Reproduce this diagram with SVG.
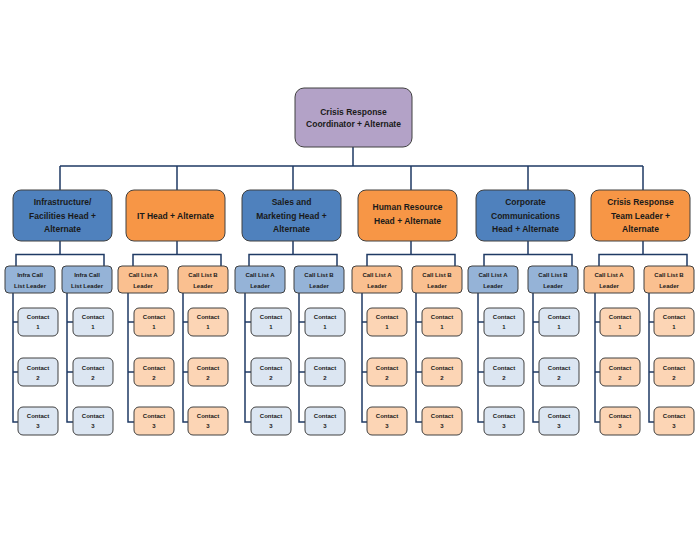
<svg xmlns="http://www.w3.org/2000/svg" width="700" height="541" viewBox="0 0 700 541">
<style>
.bg{fill:#ffffff}
.ln{fill:none;stroke:#1F3A64;stroke-width:1.5}
rect{stroke:#404040;stroke-width:1}
.top{fill:#B3A2C7}
.hb{fill:#4F81BD}
.ho{fill:#F79646}
.lb{fill:#95B3D7}
.lo{fill:#FAC090}
.cb{fill:#DCE6F2}
.co{fill:#FCD5B5}
text{font-family:"Liberation Sans",Arial,sans-serif;font-weight:bold;text-anchor:middle;fill:#1a1a1a}
.t1{font-size:8.5px}
.t2{font-size:8.5px}
.t3{font-size:6px}
.t4{font-size:6px}
</style>
<rect class="bg" x="0" y="0" width="700" height="541" style="stroke:none"/>

<g id="connectors">
<path class="ln" d="M353,147V166M60,166H643M60,166V190M177,166V190M293,166V190M411,166V190M528,166V190M643,166V190"/>
<path class="ln" d="M60,241V254.5M16,266V254.5H104V266M177,241V254.5M133,266V254.5H221V266M293,241V254.5M249,266V254.5H337V266M411,241V254.5M367,266V254.5H455V266M528,241V254.5M484,266V254.5H572V266M643,241V254.5M599,266V254.5H687V266"/>
<path class="ln" d="M13,293V422H18M13,322H18M13,372H18M67,293V422H73M67,322H73M67,372H73"/>
<path class="ln" d="M128,293V422H134M128,322H134M128,372H134M183,293V422H188M183,322H188M183,372H188"/>
<path class="ln" d="M245,293V422H251M245,322H251M245,372H251M299,293V422H305M299,322H305M299,372H305"/>
<path class="ln" d="M362,293V422H367M362,322H367M362,372H367M416,293V422H422M416,322H422M416,372H422"/>
<path class="ln" d="M478,293V422H484M478,322H484M478,372H484M533,293V422H539M533,322H539M533,372H539"/>
<path class="ln" d="M595,293V422H600M595,322H600M595,372H600M649,293V422H654M649,322H654M649,372H654"/>
</g>

<g id="coordinator">
<rect class="top" x="295" y="88" width="117" height="59" rx="9"/>
<text class="t1" x="353.5" y="115">Crisis Response</text>
<text class="t1" x="353.5" y="127">Coordinator + Alternate</text>
</g>

<!-- Department 0 -->
<g id="head-infra">
<rect class="hb" x="13" y="190" width="99" height="51" rx="8"/>
<text class="t2" x="62.5" y="205">Infrastructure/</text>
<text class="t2" x="62.5" y="218.5">Facilities Head +</text>
<text class="t2" x="62.5" y="232">Alternate</text>
</g>
<g id="leader-infra-1"><rect class="lb" x="5" y="266" width="50" height="27" rx="4"/><text class="t3" x="30" y="277">Infra Call</text><text class="t3" x="30" y="287.5">List Leader</text></g>
<g id="leader-infra-2"><rect class="lb" x="62" y="266" width="50" height="27" rx="4"/><text class="t3" x="87" y="277">Infra Call</text><text class="t3" x="87" y="287.5">List Leader</text></g>
<g id="infra1-c1"><rect class="cb" x="18" y="308" width="40" height="28" rx="5"/><text class="t4" x="38" y="319">Contact</text><text class="t4" x="38" y="329">1</text></g>
<g id="infra1-c2"><rect class="cb" x="18" y="358" width="40" height="28" rx="5"/><text class="t4" x="38" y="369.5">Contact</text><text class="t4" x="38" y="379.5">2</text></g>
<g id="infra1-c3"><rect class="cb" x="18" y="407" width="40" height="28" rx="5"/><text class="t4" x="38" y="418">Contact</text><text class="t4" x="38" y="428">3</text></g>
<g id="infra2-c1"><rect class="cb" x="73" y="308" width="40" height="28" rx="5"/><text class="t4" x="93" y="319">Contact</text><text class="t4" x="93" y="329">1</text></g>
<g id="infra2-c2"><rect class="cb" x="73" y="358" width="40" height="28" rx="5"/><text class="t4" x="93" y="369.5">Contact</text><text class="t4" x="93" y="379.5">2</text></g>
<g id="infra2-c3"><rect class="cb" x="73" y="407" width="40" height="28" rx="5"/><text class="t4" x="93" y="418">Contact</text><text class="t4" x="93" y="428">3</text></g>

<!-- Department 1 -->
<g id="head-it">
<rect class="ho" x="126" y="190" width="99" height="51" rx="8"/>
<text class="t2" x="175.5" y="219">IT Head + Alternate</text>
</g>
<g id="leader-it-a"><rect class="lo" x="118" y="266" width="50" height="27" rx="4"/><text class="t3" x="143" y="277">Call List A</text><text class="t3" x="143" y="287.5">Leader</text></g>
<g id="leader-it-b"><rect class="lo" x="178" y="266" width="50" height="27" rx="4"/><text class="t3" x="203" y="277">Call List B</text><text class="t3" x="203" y="287.5">Leader</text></g>
<g id="itA-c1"><rect class="co" x="134" y="308" width="40" height="28" rx="5"/><text class="t4" x="154" y="319">Contact</text><text class="t4" x="154" y="329">1</text></g>
<g id="itA-c2"><rect class="co" x="134" y="358" width="40" height="28" rx="5"/><text class="t4" x="154" y="369.5">Contact</text><text class="t4" x="154" y="379.5">2</text></g>
<g id="itA-c3"><rect class="co" x="134" y="407" width="40" height="28" rx="5"/><text class="t4" x="154" y="418">Contact</text><text class="t4" x="154" y="428">3</text></g>
<g id="itB-c1"><rect class="co" x="188" y="308" width="40" height="28" rx="5"/><text class="t4" x="208" y="319">Contact</text><text class="t4" x="208" y="329">1</text></g>
<g id="itB-c2"><rect class="co" x="188" y="358" width="40" height="28" rx="5"/><text class="t4" x="208" y="369.5">Contact</text><text class="t4" x="208" y="379.5">2</text></g>
<g id="itB-c3"><rect class="co" x="188" y="407" width="40" height="28" rx="5"/><text class="t4" x="208" y="418">Contact</text><text class="t4" x="208" y="428">3</text></g>

<!-- Department 2 -->
<g id="head-sales">
<rect class="hb" x="242" y="190" width="99" height="51" rx="8"/>
<text class="t2" x="291.5" y="205">Sales and</text>
<text class="t2" x="291.5" y="218.5">Marketing Head +</text>
<text class="t2" x="291.5" y="232">Alternate</text>
</g>
<g id="leader-sales-a"><rect class="lb" x="235" y="266" width="50" height="27" rx="4"/><text class="t3" x="260" y="277">Call List A</text><text class="t3" x="260" y="287.5">Leader</text></g>
<g id="leader-sales-b"><rect class="lb" x="294" y="266" width="50" height="27" rx="4"/><text class="t3" x="319" y="277">Call List B</text><text class="t3" x="319" y="287.5">Leader</text></g>
<g id="salesA-c1"><rect class="cb" x="251" y="308" width="40" height="28" rx="5"/><text class="t4" x="271" y="319">Contact</text><text class="t4" x="271" y="329">1</text></g>
<g id="salesA-c2"><rect class="cb" x="251" y="358" width="40" height="28" rx="5"/><text class="t4" x="271" y="369.5">Contact</text><text class="t4" x="271" y="379.5">2</text></g>
<g id="salesA-c3"><rect class="cb" x="251" y="407" width="40" height="28" rx="5"/><text class="t4" x="271" y="418">Contact</text><text class="t4" x="271" y="428">3</text></g>
<g id="salesB-c1"><rect class="cb" x="305" y="308" width="40" height="28" rx="5"/><text class="t4" x="325" y="319">Contact</text><text class="t4" x="325" y="329">1</text></g>
<g id="salesB-c2"><rect class="cb" x="305" y="358" width="40" height="28" rx="5"/><text class="t4" x="325" y="369.5">Contact</text><text class="t4" x="325" y="379.5">2</text></g>
<g id="salesB-c3"><rect class="cb" x="305" y="407" width="40" height="28" rx="5"/><text class="t4" x="325" y="418">Contact</text><text class="t4" x="325" y="428">3</text></g>

<!-- Department 3 -->
<g id="head-hr">
<rect class="ho" x="358" y="190" width="99" height="51" rx="8"/>
<text class="t2" x="407.5" y="210">Human Resource</text>
<text class="t2" x="407.5" y="224">Head + Alternate</text>
</g>
<g id="leader-hr-a"><rect class="lo" x="352" y="266" width="50" height="27" rx="4"/><text class="t3" x="377" y="277">Call List A</text><text class="t3" x="377" y="287.5">Leader</text></g>
<g id="leader-hr-b"><rect class="lo" x="412" y="266" width="50" height="27" rx="4"/><text class="t3" x="437" y="277">Call List B</text><text class="t3" x="437" y="287.5">Leader</text></g>
<g id="hrA-c1"><rect class="co" x="367" y="308" width="40" height="28" rx="5"/><text class="t4" x="387" y="319">Contact</text><text class="t4" x="387" y="329">1</text></g>
<g id="hrA-c2"><rect class="co" x="367" y="358" width="40" height="28" rx="5"/><text class="t4" x="387" y="369.5">Contact</text><text class="t4" x="387" y="379.5">2</text></g>
<g id="hrA-c3"><rect class="co" x="367" y="407" width="40" height="28" rx="5"/><text class="t4" x="387" y="418">Contact</text><text class="t4" x="387" y="428">3</text></g>
<g id="hrB-c1"><rect class="co" x="422" y="308" width="40" height="28" rx="5"/><text class="t4" x="442" y="319">Contact</text><text class="t4" x="442" y="329">1</text></g>
<g id="hrB-c2"><rect class="co" x="422" y="358" width="40" height="28" rx="5"/><text class="t4" x="442" y="369.5">Contact</text><text class="t4" x="442" y="379.5">2</text></g>
<g id="hrB-c3"><rect class="co" x="422" y="407" width="40" height="28" rx="5"/><text class="t4" x="442" y="418">Contact</text><text class="t4" x="442" y="428">3</text></g>

<!-- Department 4 -->
<g id="head-corp">
<rect class="hb" x="476" y="190" width="99" height="51" rx="8"/>
<text class="t2" x="525.5" y="205">Corporate</text>
<text class="t2" x="525.5" y="218.5">Communications</text>
<text class="t2" x="525.5" y="232">Head + Alternate</text>
</g>
<g id="leader-corp-a"><rect class="lb" x="468" y="266" width="50" height="27" rx="4"/><text class="t3" x="493" y="277">Call List A</text><text class="t3" x="493" y="287.5">Leader</text></g>
<g id="leader-corp-b"><rect class="lb" x="528" y="266" width="50" height="27" rx="4"/><text class="t3" x="553" y="277">Call List B</text><text class="t3" x="553" y="287.5">Leader</text></g>
<g id="corpA-c1"><rect class="cb" x="484" y="308" width="40" height="28" rx="5"/><text class="t4" x="504" y="319">Contact</text><text class="t4" x="504" y="329">1</text></g>
<g id="corpA-c2"><rect class="cb" x="484" y="358" width="40" height="28" rx="5"/><text class="t4" x="504" y="369.5">Contact</text><text class="t4" x="504" y="379.5">2</text></g>
<g id="corpA-c3"><rect class="cb" x="484" y="407" width="40" height="28" rx="5"/><text class="t4" x="504" y="418">Contact</text><text class="t4" x="504" y="428">3</text></g>
<g id="corpB-c1"><rect class="cb" x="539" y="308" width="40" height="28" rx="5"/><text class="t4" x="559" y="319">Contact</text><text class="t4" x="559" y="329">1</text></g>
<g id="corpB-c2"><rect class="cb" x="539" y="358" width="40" height="28" rx="5"/><text class="t4" x="559" y="369.5">Contact</text><text class="t4" x="559" y="379.5">2</text></g>
<g id="corpB-c3"><rect class="cb" x="539" y="407" width="40" height="28" rx="5"/><text class="t4" x="559" y="418">Contact</text><text class="t4" x="559" y="428">3</text></g>

<!-- Department 5 -->
<g id="head-crt">
<rect class="ho" x="591" y="190" width="99" height="51" rx="8"/>
<text class="t2" x="640.5" y="205">Crisis Response</text>
<text class="t2" x="640.5" y="218.5">Team Leader +</text>
<text class="t2" x="640.5" y="232">Alternate</text>
</g>
<g id="leader-crt-a"><rect class="lo" x="584" y="266" width="50" height="27" rx="4"/><text class="t3" x="609" y="277">Call List A</text><text class="t3" x="609" y="287.5">Leader</text></g>
<g id="leader-crt-b"><rect class="lo" x="644" y="266" width="50" height="27" rx="4"/><text class="t3" x="669" y="277">Call List B</text><text class="t3" x="669" y="287.5">Leader</text></g>
<g id="crtA-c1"><rect class="co" x="600" y="308" width="40" height="28" rx="5"/><text class="t4" x="620" y="319">Contact</text><text class="t4" x="620" y="329">1</text></g>
<g id="crtA-c2"><rect class="co" x="600" y="358" width="40" height="28" rx="5"/><text class="t4" x="620" y="369.5">Contact</text><text class="t4" x="620" y="379.5">2</text></g>
<g id="crtA-c3"><rect class="co" x="600" y="407" width="40" height="28" rx="5"/><text class="t4" x="620" y="418">Contact</text><text class="t4" x="620" y="428">3</text></g>
<g id="crtB-c1"><rect class="co" x="654" y="308" width="40" height="28" rx="5"/><text class="t4" x="674" y="319">Contact</text><text class="t4" x="674" y="329">1</text></g>
<g id="crtB-c2"><rect class="co" x="654" y="358" width="40" height="28" rx="5"/><text class="t4" x="674" y="369.5">Contact</text><text class="t4" x="674" y="379.5">2</text></g>
<g id="crtB-c3"><rect class="co" x="654" y="407" width="40" height="28" rx="5"/><text class="t4" x="674" y="418">Contact</text><text class="t4" x="674" y="428">3</text></g>
</svg>
